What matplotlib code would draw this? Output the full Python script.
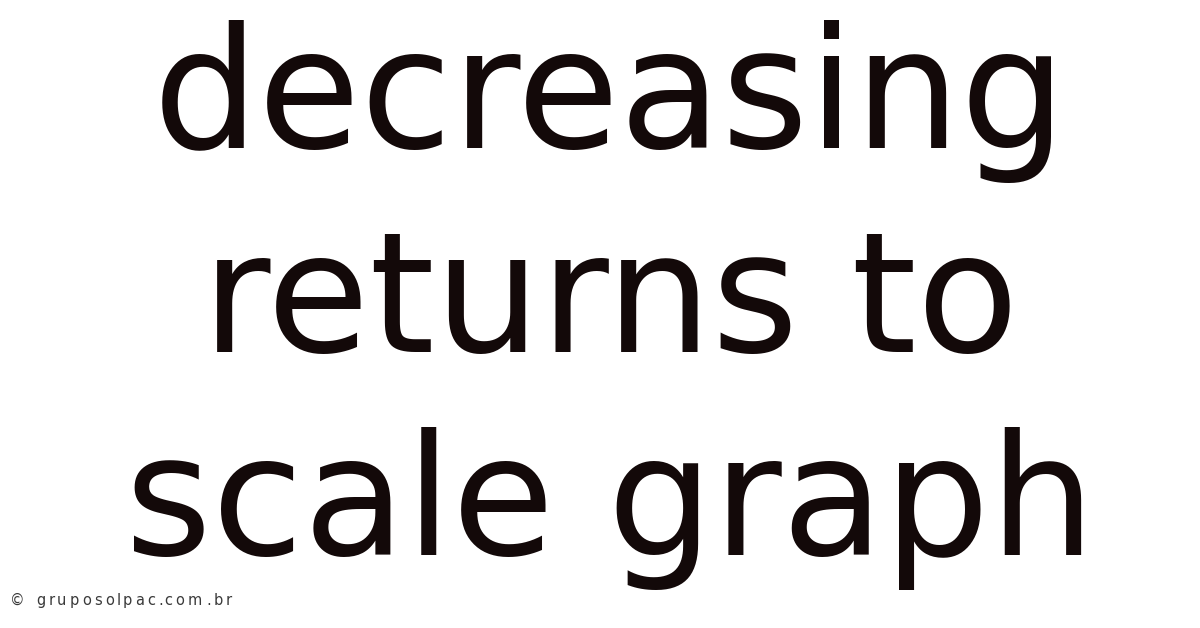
import matplotlib
matplotlib.use("Agg")
import matplotlib.pyplot as plt

# Title lines and watermark text
title_lines = ["decreasing", "returns to", "scale graph"]
baselines_px = [148, 352, 555]
watermark = "© gruposolpac.com.br"

W, H = 1200, 628
fig = plt.figure(figsize=(W / 100, H / 100), dpi=100)
fig.patch.set_facecolor("white")

for line, base in zip(title_lines, baselines_px):
    fig.text(610 / W, 1 - base / H, line, ha="center", va="baseline",
             fontsize=120, color="#130909", family="DejaVu Sans")

# watermark is drawn letter-spaced: place each character along the line
renderer = fig.canvas.get_renderer()
wm_size = 10.5
wm_left, wm_right, wm_base = 10, 232, 605


def text_width(s):
    t = fig.text(0, 0, s, fontsize=wm_size, family="DejaVu Sans")
    w = t.get_window_extent(renderer).width
    t.remove()
    return w


offsets = [text_width(watermark[:i]) if i else 0.0 for i in range(len(watermark))]
last_w = text_width(watermark[-1])
k = (wm_right - wm_left - last_w) / offsets[-1]
for ch, off in zip(watermark, offsets):
    if ch == " ":
        continue
    fig.text((wm_left + off * k) / W, 1 - wm_base / H, ch, ha="left", va="baseline",
             fontsize=wm_size, color="#3a3a3a", family="DejaVu Sans")

fig.savefig("out.png", dpi=100, facecolor="white")
